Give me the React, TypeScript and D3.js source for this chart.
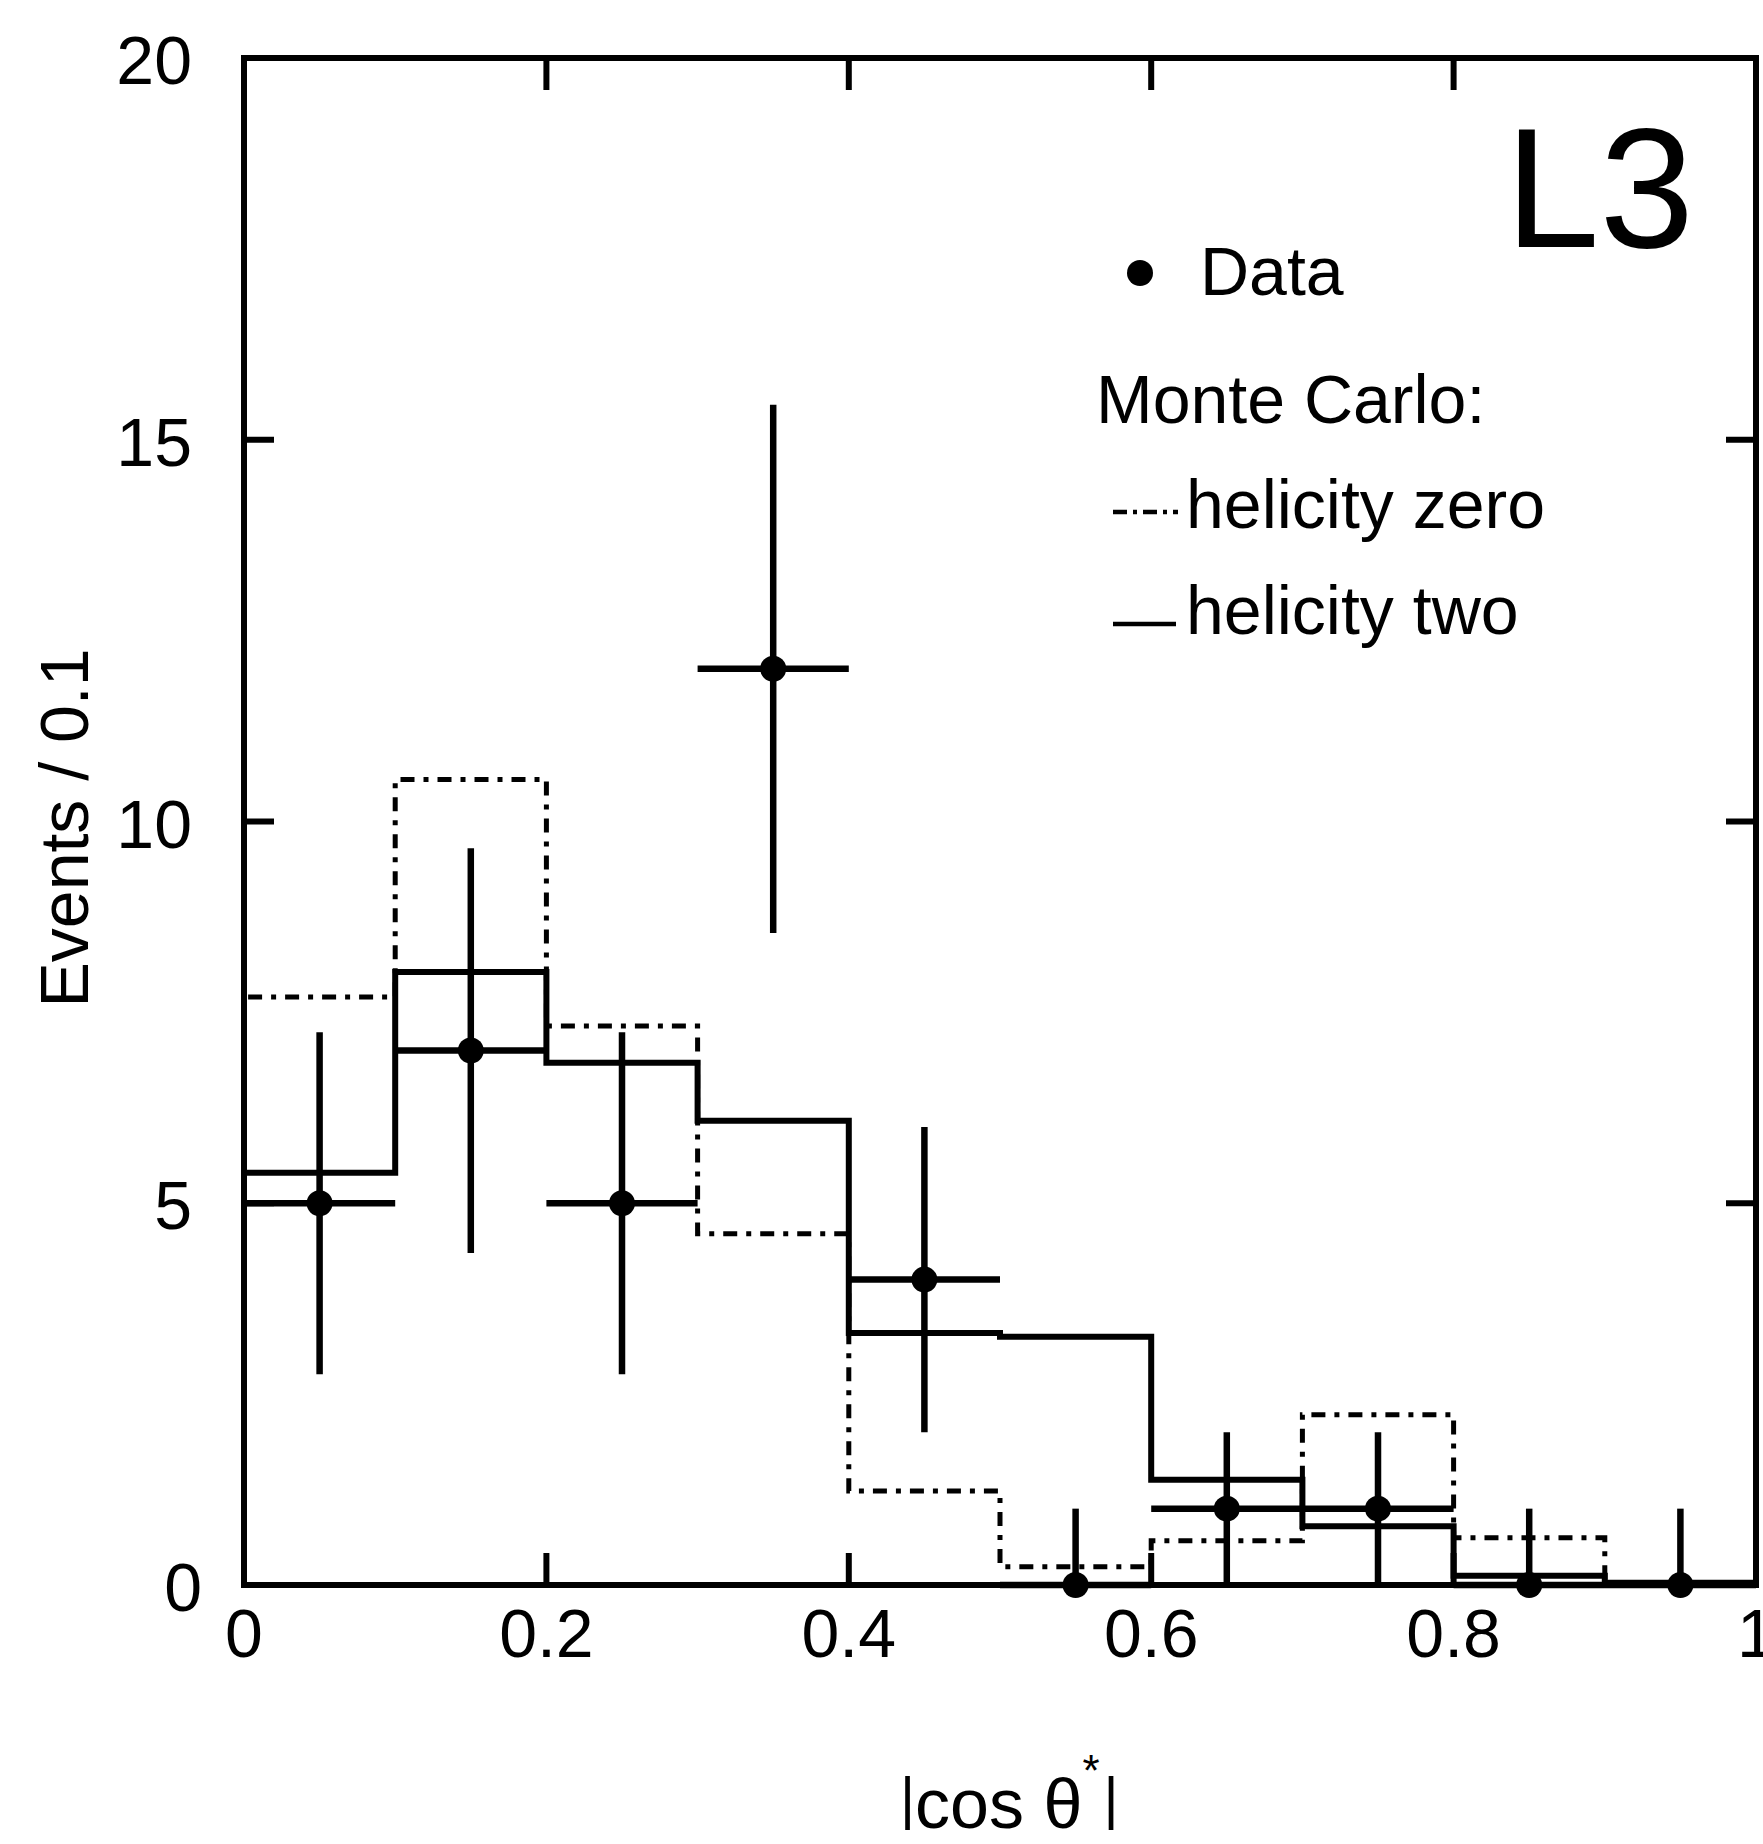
import React from "react";
import * as d3 from "d3";

// bins of |cos theta*|
const binEdges = [0, 0.1, 0.2, 0.3, 0.4, 0.5, 0.6, 0.7, 0.8, 0.9, 1.0];
const binCenters = [0.05, 0.15, 0.25, 0.35, 0.45, 0.55, 0.65, 0.75, 0.85, 0.95];

// Monte Carlo histograms (events / 0.1)
const helicityZero = [7.7, 10.55, 7.32, 4.6, 1.23, 0.24, 0.58, 2.23, 0.62, 0];
const helicityTwo = [5.4, 8.03, 6.84, 6.08, 3.3, 3.25, 1.38, 0.77, 0.12, 0.03];

// data points with errors
const dataCounts = [5, 7, 5, 12, 4, 0, 1, 1, 0, 0];
const errUp = [2.24, 2.65, 2.24, 3.46, 2, 1, 1, 1, 1, 1];
const errDown = [2.24, 2.65, 2.24, 3.46, 2, 0, 1, 1, 0, 0];

const xTicks = [0, 0.2, 0.4, 0.6, 0.8, 1];
const xTickLabels = ["0", "0.2", "0.4", "0.6", "0.8", "1"];
const yTicks = [0, 5, 10, 15, 20];
const yTickLabels = ["0", "5", "10", "15", "20"];

const W = 1763;
const H = 1844;
const FONT = "'Liberation Sans', Arial, Helvetica, sans-serif";
const DASHDOT = "14 9 5 9";

const x = d3.scaleLinear().domain([0, 1]).range([244, 1756]);
const y = d3.scaleLinear().domain([0, 20]).range([1585, 58]);

function histPath(values) {
	const pts = [[binEdges[0], 0]];
	values.forEach((v, i) => {
		pts.push([binEdges[i], v]);
		pts.push([binEdges[i + 1], v]);
	});
	pts.push([binEdges[binEdges.length - 1], 0]);
	return d3.line().x(d => x(d[0])).y(d => y(d[1]))(pts);
}

export default function App() {
	const halfBin = 0.05;
	const inner = [0.2, 0.4, 0.6, 0.8];
	const innerY = [5, 10, 15];

	return (
		<svg
			width={W}
			height={H}
			style={{ position: "absolute", left: 0, top: 0, background: "#fff" }}
			fontFamily={FONT}
		>
			<rect x={0} y={0} width={W} height={H} fill="#fff" />

			{/* MC histograms */}
			<path d={histPath(helicityZero)} fill="none" stroke="#000" strokeWidth={5} strokeDasharray={DASHDOT} />
			<path d={histPath(helicityTwo)} fill="none" stroke="#000" strokeWidth={6} />

			{/* frame */}
			<rect x={x(0)} y={y(20)} width={x(1) - x(0)} height={y(0) - y(20)} fill="none" stroke="#000" strokeWidth={6} />

			{/* ticks */}
			{inner.map(t => (
				<g key={"xt" + t}>
					<line x1={x(t)} x2={x(t)} y1={y(0)} y2={y(0) - 32} stroke="#000" strokeWidth={6} />
					<line x1={x(t)} x2={x(t)} y1={y(20)} y2={y(20) + 32} stroke="#000" strokeWidth={6} />
				</g>
			))}
			{innerY.map(t => (
				<g key={"yt" + t}>
					<line x1={x(0)} x2={x(0) + 30} y1={y(t)} y2={y(t)} stroke="#000" strokeWidth={6} />
					<line x1={x(1)} x2={x(1) - 30} y1={y(t)} y2={y(t)} stroke="#000" strokeWidth={6} />
				</g>
			))}

			{/* tick labels */}
			{xTicks.map((t, i) => (
				<text key={"xl" + t} x={x(t)} y={y(0) + 72} fontSize={68} textAnchor="middle">
					{xTickLabels[i]}
				</text>
			))}
			{yTicks.map((t, i) => (
				<text key={"yl" + t} x={t === 0 ? 202 : 192} y={y(t) + 26} fontSize={68} textAnchor="end">
					{yTickLabels[i]}
				</text>
			))}

			{/* data with error bars */}
			{binCenters.map((c, i) => (
				<g key={"d" + i}>
					<line x1={x(c)} x2={x(c)} y1={y(dataCounts[i] + errUp[i])} y2={y(dataCounts[i] - errDown[i])} stroke="#000" strokeWidth={6.5} />
					<line x1={x(c - halfBin)} x2={x(c + halfBin)} y1={y(dataCounts[i])} y2={y(dataCounts[i])} stroke="#000" strokeWidth={6.5} />
					<circle cx={x(c)} cy={y(dataCounts[i])} r={13} fill="#000" />
				</g>
			))}

			{/* axis titles */}
			<text x={88} y={828} fontSize={68} textAnchor="middle" transform="rotate(-90,88,828)">
				Events / 0.1
			</text>
			<text x={900} y={1828} fontSize={70}>
				<tspan fontSize={58} dy={-10}>|</tspan>
				<tspan dy={10}>cos θ</tspan>
				<tspan dy={-42} fontSize={44}>*</tspan>
				<tspan dy={32} dx={4} fontSize={58}>|</tspan>
			</text>

			{/* L3 + legend */}
			<text x={1505} y={247} fontSize={170}>L3</text>
			<circle cx={1140} cy={273} r={13} fill="#000" />
			<text x={1200} y={295} fontSize={68}>Data</text>
			<text x={1096} y={423} fontSize={68}>Monte Carlo:</text>
			<line x1={1113} x2={1178} y1={512} y2={512} stroke="#000" strokeWidth={4.5} strokeDasharray="14 6 4 6" />
			<text x={1186} y={528} fontSize={68}>helicity zero</text>
			<line x1={1113} x2={1176} y1={624} y2={624} stroke="#000" strokeWidth={4.5} />
			<text x={1186} y={634} fontSize={68}>helicity two</text>
		</svg>
	);
}
